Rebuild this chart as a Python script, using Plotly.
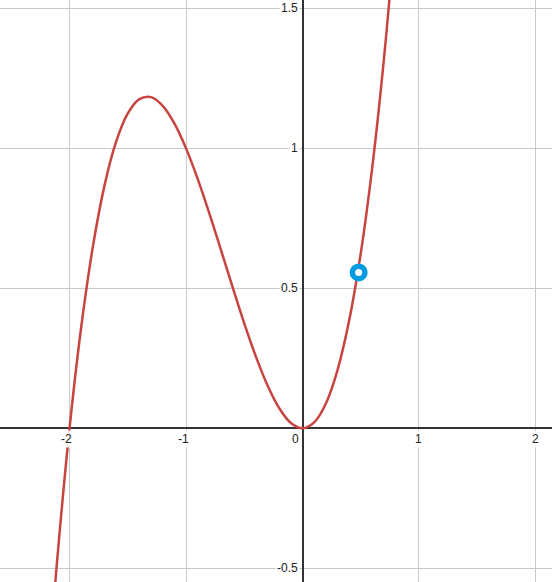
import plotly.graph_objects as go

# curve samples
curve_x = [-2.15, -2.1, -2.0, -1.9, -1.8, -1.7, -1.6, -1.5, -1.4, -1.3, -1.2, -1.1, -1.0,
           -0.9, -0.8, -0.7, -0.6, -0.5, -0.4, -0.3, -0.2, -0.1, 0.0,
           0.1, 0.2, 0.3, 0.4, 0.5, 0.6, 0.7, 0.8]
curve_y = [-0.693, -0.441, 0.0, 0.361, 0.648, 0.867, 1.024, 1.125, 1.176, 1.183, 1.152, 1.089, 1.0,
           0.891, 0.768, 0.637, 0.504, 0.375, 0.256, 0.153, 0.072, 0.019, 0.0,
           0.021, 0.088, 0.207, 0.384, 0.625, 0.936, 1.323, 1.792]

point_x = [0.482]
point_y = [0.557]

x_ticks = [-2, -1, 1, 2]
x_tick_labels = ["-2", "-1", "1", "2"]
y_ticks = [-0.5, 0.5, 1, 1.5]
y_tick_labels = ["-0.5", "0.5", "1", "1.5"]

fig = go.Figure()
fig.add_trace(go.Scatter(x=curve_x, y=curve_y, mode="lines",
                         line=dict(color="#c74440", width=2.5, shape="spline", smoothing=1.0),
                         hoverinfo="skip"))
fig.add_trace(go.Scatter(x=point_x, y=point_y, mode="markers",
                         marker=dict(size=12.5, color="white", line=dict(color="#049ce0", width=5.5))))

annotations = []
for v, t in zip(x_ticks, x_tick_labels):
    annotations.append(dict(x=v, y=0, text=t, showarrow=False, xanchor="center", yanchor="top",
                            yshift=-2, xshift=-3 if t.startswith("-") else 0,
                            font=dict(size=12, color="#222", family="Arial"),
                            bgcolor="rgba(255,255,255,0.9)"))
for v, t in zip(y_ticks, y_tick_labels):
    annotations.append(dict(x=0, y=v, text=t, showarrow=False, xanchor="right", yanchor="middle",
                            xshift=-3, font=dict(size=12, color="#222", family="Arial"),
                            bgcolor="rgba(255,255,255,0.9)"))
annotations.append(dict(x=0, y=0, text="0", showarrow=False, xanchor="right", yanchor="top",
                        xshift=-2, yshift=-2, font=dict(size=12, color="#222", family="Arial")))

fig.update_layout(
    width=552, height=582, margin=dict(l=0, r=0, t=0, b=0),
    plot_bgcolor="white", paper_bgcolor="white", showlegend=False,
    xaxis=dict(range=[-2.597, 2.142], dtick=1, tick0=0, showgrid=True, gridcolor="#c8c8c8",
               gridwidth=1, zeroline=True, zerolinecolor="#333", zerolinewidth=2,
               showticklabels=False, ticks="", fixedrange=True),
    yaxis=dict(range=[-0.549, 1.530], dtick=0.5, tick0=0, showgrid=True, gridcolor="#c8c8c8",
               gridwidth=1, zeroline=True, zerolinecolor="#333", zerolinewidth=2,
               showticklabels=False, ticks="", fixedrange=True),
    annotations=annotations,
)
fig.write_html("out.html", config={"displayModeBar": False},
               post_script="document.body.style.margin='0';document.body.style.overflow='hidden';")
